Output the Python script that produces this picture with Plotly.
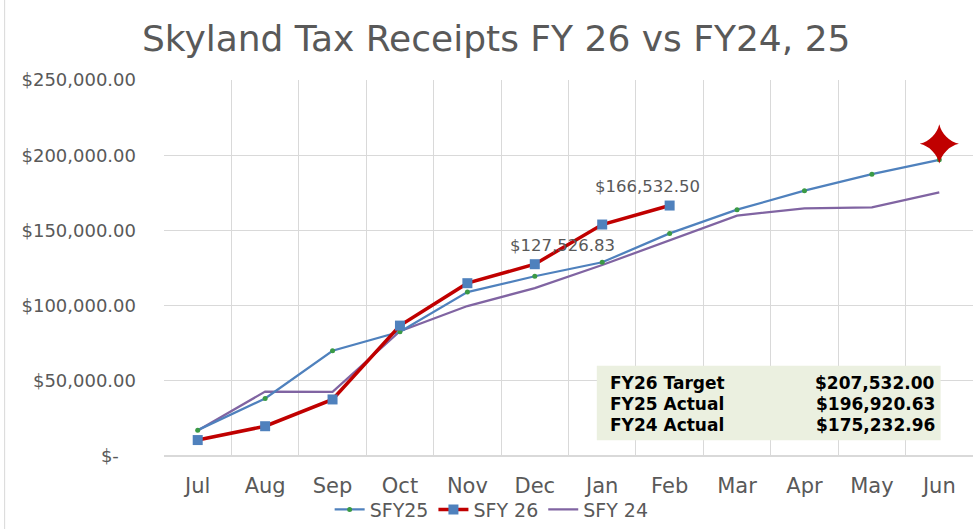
import plotly.graph_objects as go

months = ["Jul", "Aug", "Sep", "Oct", "Nov", "Dec", "Jan", "Feb", "Mar", "Apr", "May", "Jun"]
sfy25 = [17200, 38300, 70000, 82600, 109000, 119500, 128800, 148000, 163800, 176400, 187400, 196920.63]
sfy26 = [10600, 19800, 37600, 86700, 114900, 127526.83, 153900, 166532.50]
sfy24 = [17000, 42800, 42600, 83000, 99700, 111600, 127000, 143500, 159800, 164700, 165300, 175232.96]
target_month = "Jun"
target_value = 207532.00
y_ticks = [0, 50000, 100000, 150000, 200000, 250000]
y_ticktext = ["$-\u00a0\u00a0\u00a0", "$50,000.00", "$100,000.00", "$150,000.00", "$200,000.00", "$250,000.00"]
label_points = [("Dec", 127526.83, "$127,526.83"), ("Feb", 166532.50, "$166,532.50")]
box_rows = [("FY26 Target", "$207,532.00"), ("FY25 Actual", "$196,920.63"), ("FY24 Actual", "$175,232.96")]

FONT = "DejaVu Sans"
GREY = "#595959"

fig = go.Figure()
fig.add_trace(go.Scatter(x=months, y=sfy24, mode="lines", name="SFY 24",
                         line=dict(color="#8064A2", width=2.25), legendrank=3))
fig.add_trace(go.Scatter(x=months, y=sfy25, mode="lines+markers", name="SFY25",
                         line=dict(color="#4F81BD", width=2.25),
                         marker=dict(color="#3A9A45", size=5, symbol="circle"), legendrank=1))
fig.add_trace(go.Scatter(x=months[:len(sfy26)], y=sfy26, mode="lines+markers", name="SFY 26",
                         line=dict(color="#C00000", width=3.5),
                         marker=dict(color="#4F81BD", size=10, symbol="square"), legendrank=2))
fig.add_trace(go.Scatter(x=[target_month], y=[target_value], mode="markers", showlegend=False,
                         marker=dict(color="#C00000", size=28, symbol="star-diamond")))

for m, v, t in label_points:
    fig.add_annotation(x=m, y=v, xref="x", yref="y", text=t, showarrow=False,
                       xshift=-22 if m == "Feb" else 28, yshift=19,
                       font=dict(family=FONT, size=16.5, color=GREY))

# summary box
fig.add_shape(type="rect", xref="paper", yref="paper", x0=0.535, x1=0.960, y0=0.042, y1=0.240,
              fillcolor="#EBF0E0", line=dict(width=0), layer="above")
row_y = [0.193, 0.138, 0.083]
for (lab, val), yy in zip(box_rows, row_y):
    fig.add_annotation(x=0.549, y=yy, xref="paper", yref="paper", text="<b>" + lab + "</b>",
                       showarrow=False, xanchor="left", yanchor="middle",
                       font=dict(family=FONT, size=17, color="#000000"))
    fig.add_annotation(x=0.956, y=yy, xref="paper", yref="paper", text="<b>" + val + "</b>",
                       showarrow=False, xanchor="right", yanchor="middle",
                       font=dict(family=FONT, size=17, color="#000000"))

# outer chart border on left
fig.add_shape(type="line", xref="paper", yref="paper", x0=-0.197, x1=-0.197, y0=-0.2, y1=1.25,
              line=dict(color="#D9D9D9", width=1))

fig.update_layout(
    width=973, height=529,
    margin=dict(l=164, r=0, t=80, b=70),
    paper_bgcolor="white", plot_bgcolor="white",
    title=dict(text="Skyland Tax Receipts FY 26 vs FY24, 25", x=0.51, xanchor="center",
               y=1 - 38 / 529, yanchor="middle",
               font=dict(family=FONT, size=36, color=GREY)),
    legend=dict(orientation="h", x=0.405, xanchor="center", y=-0.1425, yanchor="middle",
                font=dict(family=FONT, size=19, color=GREY), itemwidth=30,
                bgcolor="rgba(0,0,0,0)"),
    showlegend=True,
)
fig.update_xaxes(type="category", categoryorder="array", categoryarray=months,
                 range=[-0.5, 11.5], tickson="boundaries", showgrid=True, gridcolor="#D9D9D9",
                 gridwidth=1, ticks="", showline=False, zeroline=False,
                 tickfont=dict(family=FONT, size=21, color=GREY), ticklabelstandoff=15)
fig.update_yaxes(range=[0, 250000], tickvals=y_ticks, ticktext=y_ticktext, showgrid=True,
                 gridcolor="#D9D9D9", gridwidth=1, zeroline=True, zerolinecolor="#D9D9D9",
                 showline=False, ticks="",
                 tickfont=dict(family=FONT, size=18, color=GREY), ticklabelstandoff=27)

fig.write_html("out.html")
